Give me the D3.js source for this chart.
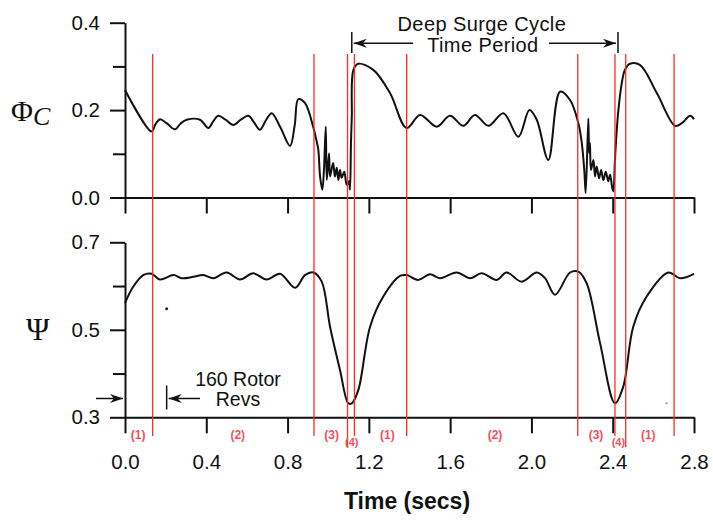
<!DOCTYPE html>
<html>
<head>
<meta charset="utf-8">
<script src="https://cdn.jsdelivr.net/npm/d3@7"></script>
<style>
    body { margin: 0; background: #fff; }
    svg { display: block; font-family: "Liberation Sans", Arial, sans-serif; }
    .axis path, .axis line { stroke: #111; stroke-width: 2; }
    .axis text { font-size: 20.5px; fill: #111; font-family: "Liberation Sans", Arial, sans-serif; }
</style>
</head>
<body>
<div id="chart"></div>
<script>
// flow coefficient Phi_C
const phiTime = [0.00, 0.131, 0.150, 0.172, 0.205, 0.246, 0.275, 0.304, 0.369, 0.410, 0.435, 0.459, 0.495,
    0.533, 0.570, 0.607, 0.635, 0.664, 0.695, 0.722, 0.765, 0.812, 0.835, 0.853, 0.886, 0.927, 0.940,
    0.951, 0.960, 0.971, 0.979, 0.988, 0.993, 1.004, 1.009, 1.024, 1.033, 1.042, 1.050, 1.058, 1.066,
    1.079, 1.091, 1.102, 1.107, 1.112, 1.116, 1.124, 1.148, 1.222, 1.304, 1.386, 1.452, 1.534, 1.599,
    1.665, 1.722, 1.788, 1.862, 1.936, 1.990, 2.026, 2.083, 2.141, 2.190, 2.231, 2.248, 2.260, 2.267,
    2.280, 2.284, 2.288, 2.293, 2.305, 2.313, 2.321, 2.333, 2.343, 2.354, 2.366, 2.378, 2.387, 2.398,
    2.403, 2.411, 2.420, 2.428, 2.444, 2.460, 2.485, 2.535, 2.617, 2.707, 2.740, 2.781, 2.800];
const phiValue = [0.246, 0.151, 0.168, 0.179, 0.170, 0.156, 0.170, 0.178, 0.178, 0.159, 0.175, 0.187, 0.178,
    0.166, 0.178, 0.187, 0.172, 0.155, 0.178, 0.193, 0.160, 0.118, 0.165, 0.225, 0.216, 0.160, 0.135,
    0.110, 0.048, 0.018, 0.063, 0.162, 0.040, 0.101, 0.048, 0.079, 0.048, 0.068, 0.040, 0.063, 0.045,
    0.059, 0.029, 0.037, 0.018, 0.125, 0.185, 0.292, 0.306, 0.292, 0.239, 0.159, 0.189, 0.162, 0.187,
    0.164, 0.189, 0.164, 0.193, 0.139, 0.200, 0.178, 0.086, 0.242, 0.223, 0.170, 0.124, 0.063, 0.010,
    0.181, 0.102, 0.125, 0.063, 0.086, 0.048, 0.071, 0.044, 0.063, 0.040, 0.059, 0.037, 0.052, 0.021,
    0.014, 0.086, 0.155, 0.200, 0.260, 0.292, 0.306, 0.303, 0.239, 0.164, 0.170, 0.187, 0.179];

// pressure rise coefficient Psi
const psiTime = [0.00, 0.041, 0.090, 0.131, 0.172, 0.238, 0.279, 0.336, 0.385, 0.435, 0.500, 0.566, 0.631,
    0.697, 0.763, 0.837, 0.886, 0.927, 0.968, 1.009, 1.058, 1.099, 1.116, 1.148, 1.206, 1.271, 1.353,
    1.386, 1.443, 1.501, 1.550, 1.632, 1.698, 1.755, 1.829, 1.878, 1.952, 2.026, 2.067, 2.116, 2.190,
    2.231, 2.272, 2.338, 2.411, 2.452, 2.501, 2.567, 2.674, 2.731, 2.800];
const psiValue = [0.561, 0.599, 0.625, 0.628, 0.615, 0.625, 0.618, 0.621, 0.625, 0.618, 0.631, 0.615, 0.629,
    0.615, 0.628, 0.596, 0.625, 0.631, 0.610, 0.507, 0.408, 0.332, 0.332, 0.362, 0.507, 0.576, 0.623,
    0.625, 0.614, 0.627, 0.618, 0.631, 0.618, 0.629, 0.614, 0.631, 0.610, 0.631, 0.618, 0.580, 0.631,
    0.633, 0.606, 0.469, 0.332, 0.370, 0.507, 0.576, 0.631, 0.618, 0.628];

// red phase boundaries and phase numbers
const phaseLines = [0.136, 0.930, 1.095, 1.129, 1.386, 2.228, 2.411, 2.464, 2.702];
const phaseLabels = ["(1)", "(2)", "(3)", "(4)", "(1)", "(2)", "(3)", "(4)", "(1)"];
const phaseLabelTime = [0.065, 0.555, 1.017, 1.116, 1.291, 1.821, 2.318, 2.428, 2.575];

const timeTicks = [0, 0.4, 0.8, 1.2, 1.6, 2.0, 2.4, 2.8];
const phiTicks = [0, 0.2, 0.4];
const phiMinor = [0.1, 0.3];
const psiTicks = [0.3, 0.5, 0.7];
const psiMinor = [0.4, 0.6];

const surgeStart = 1.116, surgeEnd = 2.426;
const revsStart = 0, revsEnd = 0.205;

const width = 713, height = 521;

const svg = d3.select("#chart").append("svg")
    .attr("width", width)
    .attr("height", height);

const x = d3.scaleLinear().domain([0, 2.8]).range([125, 694]);
const yPhi = d3.scaleLinear().domain([0, 0.4]).range([197.5, 22.7]);
const yPsi = d3.scaleLinear().domain([0.3, 0.7]).range([417.3, 242.3]);

const fmt = d3.format(".1f");

// axes, top panel
svg.append("g").attr("class", "axis")
    .attr("transform", `translate(0,${yPhi(0)})`)
    .call(d3.axisBottom(x).tickValues(timeTicks).tickSize(16).tickSizeOuter(0).tickFormat(""));
svg.append("g").attr("class", "axis")
    .attr("transform", `translate(${x(0)},0)`)
    .call(d3.axisLeft(yPhi).tickValues(phiTicks).tickSize(15).tickSizeOuter(0).tickPadding(10).tickFormat(fmt));
svg.append("g").attr("class", "axis minor")
    .attr("transform", `translate(${x(0)},0)`)
    .call(d3.axisLeft(yPhi).tickValues(phiMinor).tickSize(12).tickFormat(""))
    .select(".domain").remove();

// axes, bottom panel
svg.append("g").attr("class", "axis")
    .attr("transform", `translate(0,${yPsi(0.3)})`)
    .call(d3.axisBottom(x).tickValues(timeTicks).tickSize(16).tickSizeOuter(0).tickPadding(21).tickFormat(fmt))
    .selectAll("text").attr("font-size", 21);
svg.append("g").attr("class", "axis")
    .attr("transform", `translate(${x(0)},0)`)
    .call(d3.axisLeft(yPsi).tickValues(psiTicks).tickSize(15).tickSizeOuter(0).tickPadding(10).tickFormat(fmt));
svg.append("g").attr("class", "axis minor")
    .attr("transform", `translate(${x(0)},0)`)
    .call(d3.axisLeft(yPsi).tickValues(psiMinor).tickSize(12).tickFormat(""))
    .select(".domain").remove();

// curves
const phiLine = d3.line()
    .x((d, i) => x(phiTime[i]))
    .y(d => yPhi(d))
    .curve(d3.curveCatmullRom.alpha(0.5));
const psiLine = d3.line()
    .x((d, i) => x(psiTime[i]))
    .y(d => yPsi(d))
    .curve(d3.curveCatmullRom.alpha(0.5));

svg.append("path")
    .attr("d", phiLine(phiValue))
    .attr("fill", "none").attr("stroke", "#111").attr("stroke-width", 2)
    .attr("stroke-linejoin", "round");
svg.append("path")
    .attr("d", psiLine(psiValue))
    .attr("fill", "none").attr("stroke", "#111").attr("stroke-width", 2)
    .attr("stroke-linejoin", "round");

// specks of the scan
svg.append("circle").attr("cx", x(0.205)).attr("cy", yPsi(0.548)).attr("r", 1.5).attr("fill", "#222");
svg.append("circle").attr("cx", x(2.665)).attr("cy", yPsi(0.332)).attr("r", 1).attr("fill", "#888");

// red phase lines
const longLines = [2, 7];
svg.selectAll(".phase")
    .data(phaseLines)
    .enter().append("line")
    .attr("class", "phase")
    .attr("x1", d => x(d)).attr("x2", d => x(d))
    .attr("y1", 54)
    .attr("y2", (d, i) => longLines.includes(i) ? 447 : 436)
    .attr("stroke", "#ff2a2a")
    .attr("stroke-width", 1.3);

svg.selectAll(".phaseLabel")
    .data(phaseLabels)
    .enter().append("text")
    .attr("class", "phaseLabel")
    .attr("x", (d, i) => x(phaseLabelTime[i]))
    .attr("y", d => d === "(4)" ? 446 : 439)
    .attr("text-anchor", "middle")
    .attr("font-size", d => d === "(4)" ? 11 : 12)
    .attr("font-weight", "bold")
    .attr("fill", "#f4505a")
    .text(d => d);

// arrow heads
const defs = svg.append("defs");
defs.append("marker")
    .attr("id", "head")
    .attr("viewBox", "-14 -6 16 12")
    .attr("markerWidth", 16).attr("markerHeight", 12)
    .attr("markerUnits", "userSpaceOnUse")
    .attr("refX", 0).attr("refY", 0)
    .attr("orient", "auto-start-reverse")
    .append("path")
    .attr("d", "M0,0 L-13,-4.5 L-9,0 L-13,4.5 Z")
    .attr("fill", "#111");

// deep surge cycle bracket
const ya = 43.3;
svg.append("line").attr("x1", x(surgeStart)).attr("x2", x(surgeStart)).attr("y1", 32).attr("y2", 53)
    .attr("stroke", "#111").attr("stroke-width", 1.5);
svg.append("line").attr("x1", x(surgeEnd)).attr("x2", x(surgeEnd)).attr("y1", 32).attr("y2", 53)
    .attr("stroke", "#111").attr("stroke-width", 1.5);
svg.append("line").attr("x1", x(surgeStart) + 2).attr("x2", 413).attr("y1", ya).attr("y2", ya)
    .attr("stroke", "#111").attr("stroke-width", 1.5)
    .attr("marker-start", "url(#head)");
svg.append("line").attr("x1", 549).attr("x2", x(surgeEnd) - 2).attr("y1", ya).attr("y2", ya)
    .attr("stroke", "#111").attr("stroke-width", 1.5)
    .attr("marker-end", "url(#head)");

const midSurge = (x(surgeStart) + x(surgeEnd)) / 2;
svg.append("text").attr("x", midSurge - 3).attr("y", 31)
    .attr("text-anchor", "middle").attr("font-size", 20).attr("letter-spacing", 0.4).attr("fill", "#111")
    .text("Deep Surge Cycle");
svg.append("text").attr("x", midSurge - 2).attr("y", 51.5)
    .attr("text-anchor", "middle").attr("font-size", 20).attr("letter-spacing", 0.4).attr("fill", "#111")
    .text("Time Period");

// 160 rotor revs
const yr = yPsi(0.343);
svg.append("line").attr("x1", 96).attr("x2", x(revsStart) - 2).attr("y1", yr).attr("y2", yr)
    .attr("stroke", "#111").attr("stroke-width", 1.5)
    .attr("marker-end", "url(#head)");
svg.append("line").attr("x1", x(revsEnd)).attr("x2", x(revsEnd)).attr("y1", yr - 13).attr("y2", yr + 11)
    .attr("stroke", "#111").attr("stroke-width", 1.5);
svg.append("line").attr("x1", 200).attr("x2", x(revsEnd) + 2).attr("y1", yr).attr("y2", yr)
    .attr("stroke", "#111").attr("stroke-width", 1.5)
    .attr("marker-end", "url(#head)");
svg.append("text").attr("x", x(0.556)).attr("y", yPsi(0.372))
    .attr("text-anchor", "middle").attr("font-size", 19.5).attr("fill", "#111")
    .text("160 Rotor");
svg.append("text").attr("x", x(0.556)).attr("y", yPsi(0.326))
    .attr("text-anchor", "middle").attr("font-size", 19.5).attr("fill", "#111")
    .text("Revs");

// axis titles
const phiLabel = svg.append("text")
    .attr("x", 11).attr("y", 121)
    .attr("font-family", "'Liberation Serif', 'Times New Roman', serif")
    .attr("fill", "#111");
phiLabel.append("tspan").attr("font-size", 30).text("Φ");
phiLabel.append("tspan").attr("font-size", 26).attr("font-style", "italic").attr("dy", 4).text("C");

svg.append("text")
    .attr("x", 26).attr("y", 340)
    .attr("font-family", "'Liberation Serif', 'Times New Roman', serif")
    .attr("font-size", 32)
    .attr("fill", "#111")
    .text("Ψ");

svg.append("text")
    .attr("x", 407).attr("y", 509)
    .attr("text-anchor", "middle")
    .attr("font-size", 23)
    .attr("font-weight", "bold")
    .attr("fill", "#111")
    .text("Time (secs)");
</script>
</body>
</html>
